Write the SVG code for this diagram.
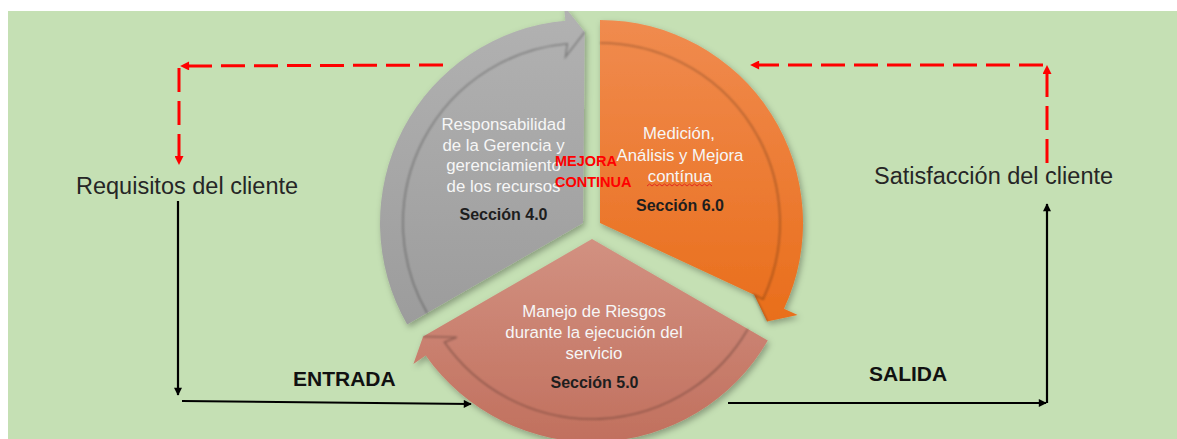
<svg xmlns="http://www.w3.org/2000/svg" width="1177" height="439" viewBox="0 0 1177 439">
<style>
.lbl{font-family:"Liberation Sans",Arial,sans-serif;fill:#262626;font-size:23.5px}
.io{font-family:"Liberation Sans",Arial,sans-serif;fill:#111;font-size:21px;font-weight:bold}
.in{font-family:"Liberation Sans",Arial,sans-serif;fill:#f6f6f6;font-size:16.8px;text-anchor:middle}
.sec{font-family:"Liberation Sans",Arial,sans-serif;fill:#1e1e1e;font-size:16px;font-weight:bold;text-anchor:middle}
.mc{font-family:"Liberation Sans",Arial,sans-serif;fill:#ff0000;font-size:14.5px;font-weight:bold}
.blk{stroke:#000;stroke-width:2.2;fill:none}
.red{stroke:#ff0000;stroke-width:3;fill:none;stroke-dasharray:24 9}
.shd{fill:none;stroke:#000;stroke-opacity:0.28;stroke-width:1.6}
</style>
<defs>
<linearGradient id="gGray" x1="0" y1="0" x2="0" y2="1"><stop offset="0" stop-color="#b2b2b2"/><stop offset="1" stop-color="#9c9c9c"/></linearGradient>
<linearGradient id="gOrange" x1="0" y1="0" x2="0" y2="1"><stop offset="0" stop-color="#f08b4f"/><stop offset="1" stop-color="#e96e1b"/></linearGradient>
<linearGradient id="gSalmon" x1="0" y1="0" x2="0" y2="1"><stop offset="0" stop-color="#d29181"/><stop offset="1" stop-color="#c1705e"/></linearGradient>
<filter id="drop" x="-10%" y="-10%" width="130%" height="130%"><feDropShadow dx="2" dy="3" stdDeviation="3" flood-color="#000" flood-opacity="0.3"/></filter>
<filter id="soft"><feGaussianBlur stdDeviation="0.8"/></filter>
<marker id="ab" viewBox="0 0 10 10" refX="9" refY="5" markerWidth="9" markerHeight="8" markerUnits="userSpaceOnUse" orient="auto"><path d="M0,0 L10,5 L0,10 z" fill="#000"/></marker>
<marker id="ar" viewBox="0 0 10 10" refX="9" refY="5" markerWidth="10" markerHeight="9" markerUnits="userSpaceOnUse" orient="auto"><path d="M0,0 L10,5 L0,10 z" fill="#ff0000"/></marker>
</defs>
<rect x="0" y="0" width="1177" height="439" fill="#ffffff"/>
<rect x="8" y="11" width="1169" height="428" fill="#c5e0b4"/>

<g id="seg-gray" filter="url(#drop)">
<path d="M583,223 L407.2,324.5 A203,203 0 0 1 565.3,20.8 L564,5.8 L584.7,32 Z" fill="url(#gGray)"/>
</g>
<g id="seg-orange" filter="url(#drop)">
<path d="M600,223 L600,20 A203,203 0 0 1 784,308.8 L797.6,315.1 L767.1,321.5 L754.1,294.8 Z" fill="url(#gOrange)"/>
</g>
<g id="seg-salmon" filter="url(#drop)">
<path d="M592,239 L767.8,340.5 A203,203 0 0 1 425.7,355.4 L413.4,364 L423.1,336.5 Z" fill="url(#gSalmon)"/>
</g>
<rect x="0" y="0" width="1177" height="11" fill="#ffffff"/>
<g id="shadows" filter="url(#soft)">
<path class="shd" d="M427.1,313 A180,180 0 0 1 567.3,43.7 L565.5,56.9 L584.7,32"/>
<path class="shd" d="M600,43 A180,180 0 0 1 763.1,299.1 L754.1,294.8 L767.1,321.5"/>
<path class="shd" d="M747.9,329 A180,180 0 0 1 444.5,342.2 L456.9,337.2 L423.1,336.5"/>
</g>

<g id="txt-gray">
<text class="in" x="503.5" y="130">Responsabilidad</text>
<text class="in" x="503.5" y="150.5">de la Gerencia y</text>
<text class="in" x="503.5" y="171">gerenciamiento</text>
<text class="in" x="503.5" y="191.5">de los recursos</text>
<text class="sec" x="503.5" y="220">Sección 4.0</text>
</g>
<g id="txt-orange">
<text class="in" x="679" y="139">Medición,</text>
<text class="in" x="680" y="161">Análisis y Mejora</text>
<text class="in" x="680" y="181.5">contínua</text>
<path d="M647,186 l2.5,-2 l2.5,2 l2.5,-2 l2.5,2 l2.5,-2 l2.5,2 l2.5,-2 l2.5,2 l2.5,-2 l2.5,2 l2.5,-2 l2.5,2 l2.5,-2 l2.5,2 l2.5,-2 l2.5,2 l2.5,-2 l2.5,2 l2.5,-2 l2.5,2 l2.5,-2 l2.5,2 l2.5,-2 l2.5,2 l2.5,-2 l2.5,2" fill="none" stroke="#e02020" stroke-width="0.9"/>
<text class="sec" x="680" y="211">Sección 6.0</text>
</g>
<g id="txt-salmon">
<text class="in" x="594" y="317">Manejo de Riesgos</text>
<text class="in" x="594" y="338">durante la ejecución del</text>
<text class="in" x="594" y="359">servicio</text>
<text class="sec" x="594.5" y="388">Sección 5.0</text>
</g>
<g id="mejora">
<text class="mc" x="555" y="166">MEJORA</text>
<text class="mc" x="555" y="187">CONTINUA</text>
</g>
<g id="requisitos"><text class="lbl" x="76" y="194">Requisitos del cliente</text></g>
<g id="satisfaccion"><text class="lbl" x="874" y="184">Satisfacción del cliente</text></g>
<g id="entrada"><text class="io" x="293" y="386">ENTRADA</text></g>
<g id="salida"><text class="io" x="869" y="381">SALIDA</text></g>

<g id="connectors">
<line class="blk" x1="178" y1="201" x2="178" y2="395" marker-end="url(#ab)"/>
<line class="blk" x1="182" y1="401" x2="471" y2="404" marker-end="url(#ab)"/>
<line class="blk" x1="728" y1="403" x2="1046" y2="403" marker-end="url(#ab)"/>
<line class="blk" x1="1047" y1="403" x2="1047" y2="204" marker-end="url(#ab)"/>
<line class="red" x1="443" y1="65" x2="181" y2="66" marker-end="url(#ar)"/>
<line class="red" x1="179" y1="68" x2="179" y2="164" marker-end="url(#ar)"/>
<line class="red" x1="1047" y1="163" x2="1047" y2="66" marker-end="url(#ar)"/>
<line class="red" x1="1043" y1="65" x2="751" y2="65" marker-end="url(#ar)"/>
</g>
</svg>
